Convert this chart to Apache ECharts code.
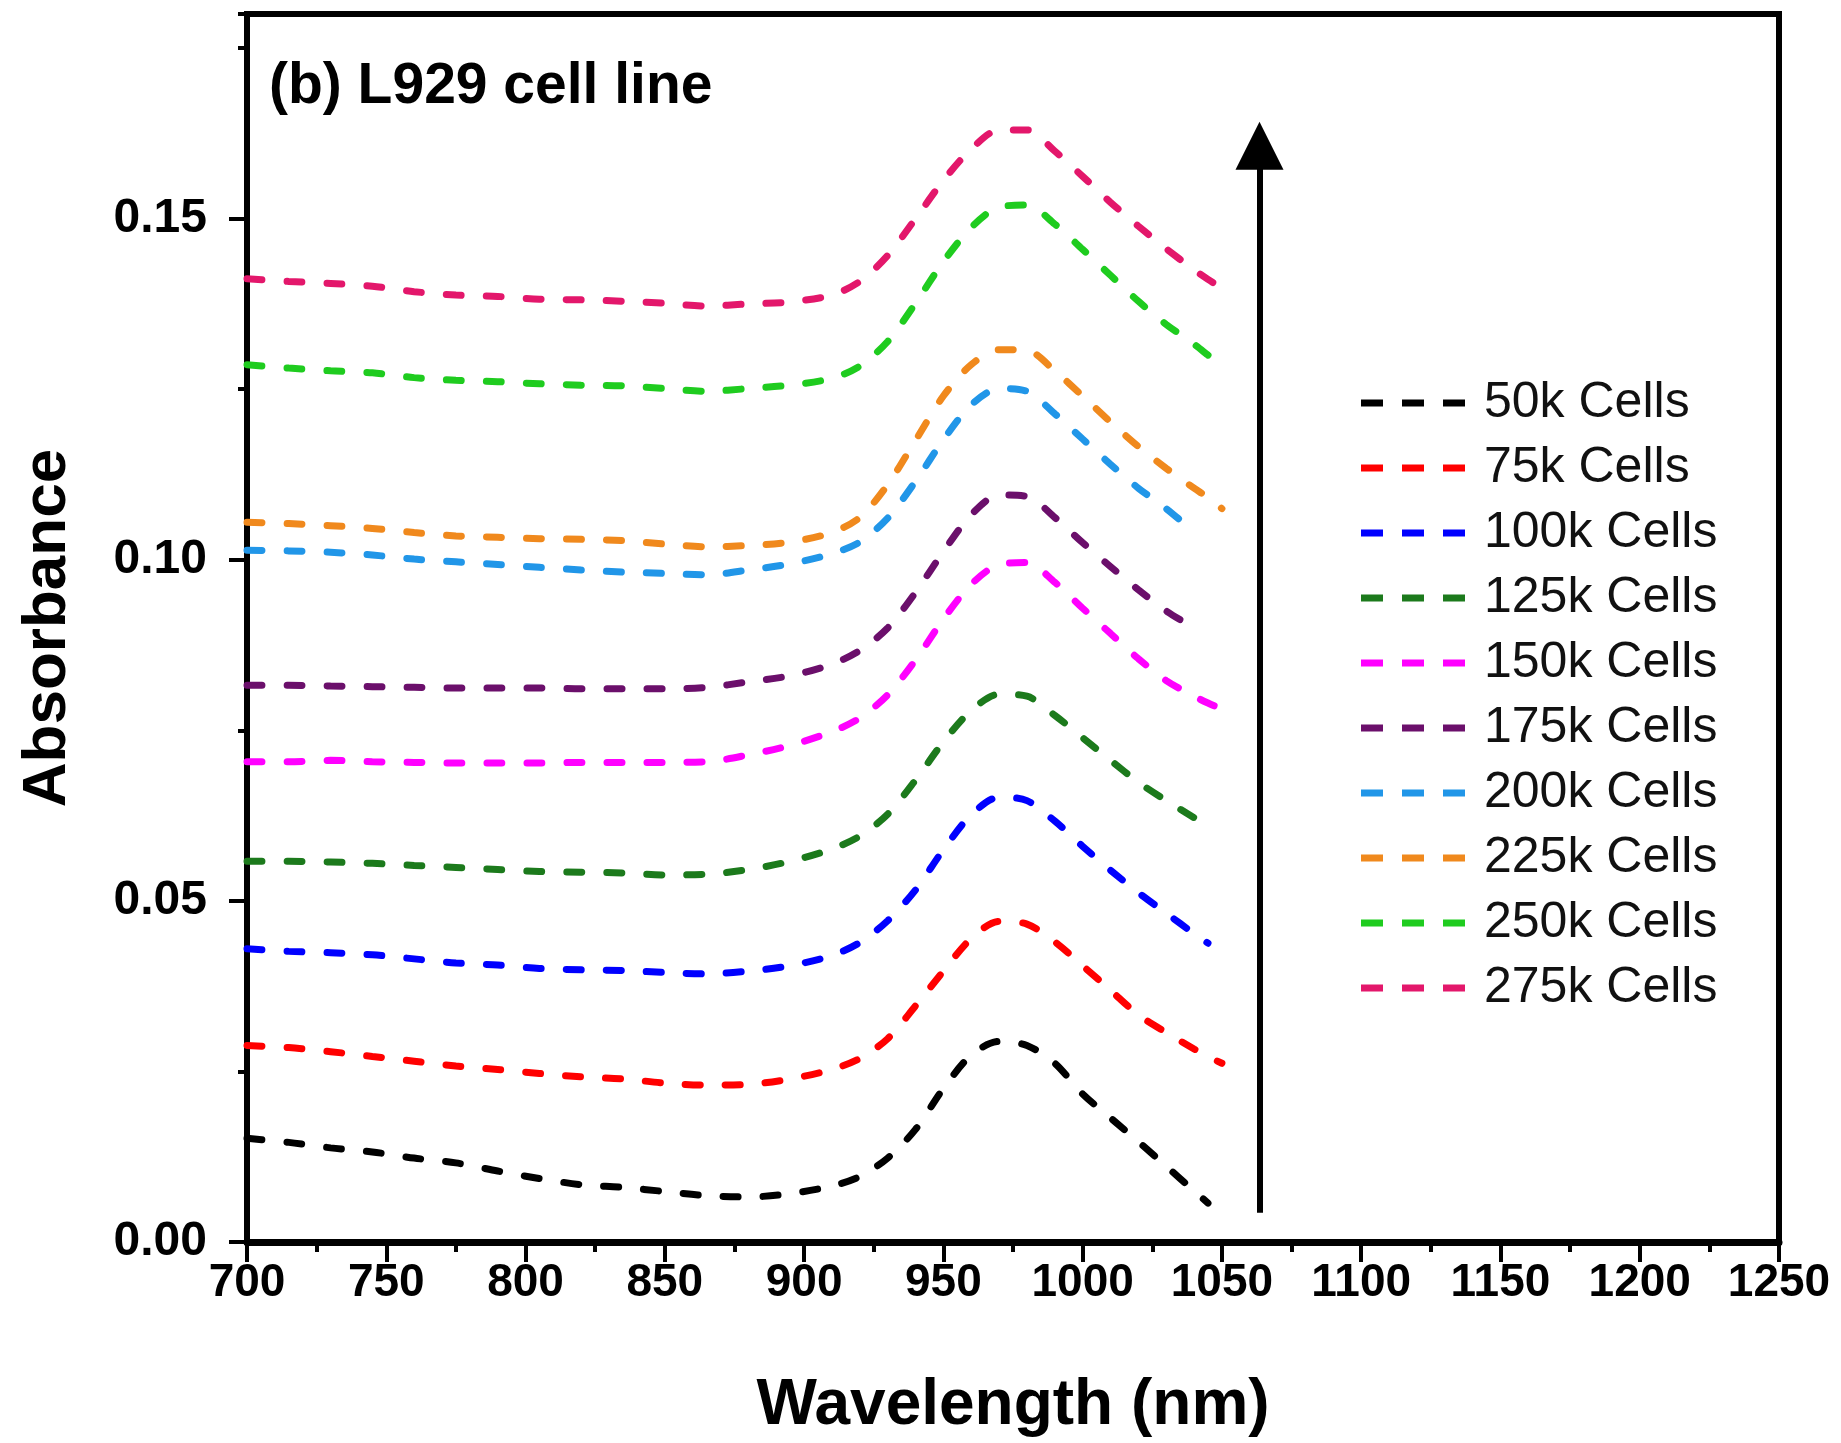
<!DOCTYPE html>
<html><head><meta charset="utf-8">
<script src="https://cdn.jsdelivr.net/npm/echarts@6/dist/echarts.min.js"></script>
<style>html,body{margin:0;padding:0;background:#fff}#c{width:1841px;height:1443px}</style>
</head><body><div id="c"></div>
<script>
// ---- data ----
const wavelengths = [700,715,730,745,760,775,790,805,820,835,850,865,880,895,910,920,930,940,950,960,970,980,990,1000,1010,1020,1030,1040,1045,1050];
const seriesNames = ['50k Cells','75k Cells','100k Cells','125k Cells','150k Cells','175k Cells','200k Cells','225k Cells','250k Cells','275k Cells'];
const cells50k  = [0.0152,0.0146,0.0138,0.0132,0.0123,0.0116,0.0104,0.0093,0.0084,0.0080,0.0074,0.0068,0.0066,0.0071,0.0082,0.0096,0.0123,0.0165,0.0225,0.0274,0.0294,0.0288,0.0262,0.0217,0.0182,0.0147,0.0111,0.0075,0.0057,null];
const cells75k  = [0.0288,0.0285,0.0279,0.0272,0.0265,0.0258,0.0253,0.0247,0.0242,0.0239,0.0233,0.0230,0.0231,0.0239,0.0253,0.0269,0.0298,0.0346,0.0397,0.0445,0.0470,0.0466,0.0440,0.0405,0.0369,0.0333,0.0307,0.0283,0.0272,0.0262];
const cells100k = [0.0430,0.0426,0.0424,0.0421,0.0415,0.0409,0.0406,0.0401,0.0399,0.0398,0.0395,0.0393,0.0397,0.0405,0.0420,0.0439,0.0471,0.0516,0.0575,0.0626,0.0652,0.0647,0.0617,0.0580,0.0545,0.0512,0.0482,0.0452,0.0438,null];
const cells125k = [0.0558,0.0558,0.0557,0.0555,0.0552,0.0549,0.0546,0.0543,0.0542,0.0541,0.0538,0.0539,0.0546,0.0558,0.0576,0.0595,0.0627,0.0677,0.0733,0.0779,0.0803,0.0800,0.0772,0.0739,0.0706,0.0674,0.0647,0.0622,0.0609,null];
const cells150k = [0.0704,0.0704,0.0706,0.0704,0.0703,0.0702,0.0702,0.0702,0.0703,0.0703,0.0703,0.0704,0.0714,0.0728,0.0748,0.0768,0.0802,0.0853,0.0913,0.0964,0.0993,0.0996,0.0967,0.0929,0.0892,0.0855,0.0823,0.0800,0.0790,0.0781];
const cells175k = [0.0816,0.0816,0.0815,0.0814,0.0813,0.0812,0.0812,0.0812,0.0811,0.0811,0.0811,0.0813,0.0821,0.0830,0.0847,0.0867,0.0900,0.0952,0.1012,0.1066,0.1095,0.1093,0.1062,0.1025,0.0990,0.0956,0.0925,0.0900,null,null];
const cells200k = [0.1014,0.1013,0.1011,0.1007,0.1001,0.0997,0.0993,0.0989,0.0985,0.0982,0.0980,0.0978,0.0985,0.0994,0.1009,0.1026,0.1061,0.1115,0.1176,0.1227,0.1251,0.1247,0.1214,0.1177,0.1140,0.1105,0.1075,0.1041,null,null];
const cells225k = [0.1055,0.1053,0.1050,0.1046,0.1040,0.1035,0.1033,0.1031,0.1030,0.1028,0.1023,0.1019,0.1021,0.1026,0.1040,0.1062,0.1110,0.1175,0.1240,0.1286,0.1308,0.1307,0.1277,0.1240,0.1202,0.1166,0.1134,0.1105,0.1091,0.1075];
const cells250k = [0.1286,0.1281,0.1277,0.1274,0.1267,0.1263,0.1261,0.1258,0.1256,0.1255,0.1251,0.1247,0.1251,0.1256,0.1266,0.1284,0.1320,0.1376,0.1437,0.1487,0.1517,0.1520,0.1492,0.1455,0.1417,0.1379,0.1345,0.1316,0.1300,0.1284];
const cells275k = [0.1412,0.1408,0.1405,0.1401,0.1393,0.1388,0.1386,0.1382,0.1381,0.1379,0.1376,0.1372,0.1375,0.1378,0.1388,0.1408,0.1446,0.1500,0.1556,0.1602,0.1630,0.1630,0.1599,0.1562,0.1524,0.1489,0.1456,0.1425,0.1411,0.1398];
const seriesColors = ['#000000','#ff0000','#0000ff','#1c7a1c','#ff00ff','#6b0f6b','#2196e8','#f0891d','#1fcc1f','#e3176b'];
const arrowX = 1063.5;
const arrowYStart = 0.0043;
const arrowYEnd = 0.1607;
const titleText = '(b) L929 cell line';
const xName = 'Wavelength (nm)';
const yName = 'Absorbance';

// ---- chart ----
const allValues = [cells50k,cells75k,cells100k,cells125k,cells150k,cells175k,cells200k,cells225k,cells250k,cells275k];
const chart = echarts.init(document.getElementById('c'), null, {renderer:'canvas'});
const FONT = 'Liberation Sans, Arial, sans-serif';
const series = allValues.map((vals, i) => ({
  name: seriesNames[i],
  type: 'line',
  data: wavelengths.map((w, j) => vals[j] == null ? null : [w, vals[j]]).filter(p => p),
  smooth: 0.3,
  symbol: 'none',
  showSymbol: false,
  lineStyle: {color: seriesColors[i], width: 7, type: [15, 25], cap: 'round'},
  itemStyle: {color: seriesColors[i]},
  emphasis: {disabled: true},
  z: 3
}));
series[series.length - 1].markLine = {
  silent: true,
  animation: false,
  symbol: ['none', 'triangle'],
  symbolSize: 48,
  label: {show: false},
  emphasis: {disabled: true},
  lineStyle: {color: '#000', width: 6, type: 'solid'},
  data: [[{coord: [arrowX, arrowYStart]}, {coord: [arrowX, arrowYEnd]}]]
};

chart.setOption({
  animation: false,
  backgroundColor: '#fff',
  title: {
    text: titleText, left: 264, top: 54,
    textStyle: {fontFamily: FONT, fontWeight: 'bold', fontSize: 57, color: '#000'}
  },
  grid: {left: 247, right: 62, top: 14, bottom: 198, show: true, borderColor: '#000', borderWidth: 6, backgroundColor: 'transparent'},
  legend: {
    orient: 'vertical', left: 1356, top: 372,
    icon: 'path://M0 0h22v7H0z M41 0h22v7H41z M82 0h22v7H82z',
    itemWidth: 104, itemHeight: 7, itemGap: 13,
    data: seriesNames,
    textStyle: {fontFamily: FONT, fontSize: 50, color: '#111', lineHeight: 52, padding: [0, 0, 0, 14]},
    selectedMode: false
  },
  xAxis: {
    type: 'value', min: 700, max: 1250, interval: 50,
    name: xName, nameLocation: 'middle', nameGap: 132,
    nameTextStyle: {fontFamily: FONT, fontWeight: 'bold', fontSize: 64, color: '#000'},
    axisLine: {show: true, lineStyle: {color: '#000', width: 7}},
    axisTick: {show: true, length: 20, lineStyle: {color: '#000', width: 4}},
    minorTick: {show: true, splitNumber: 2, length: 10, lineStyle: {color: '#000', width: 4}},
    axisLabel: {margin: 18, formatter: v => String(v), fontFamily: FONT, fontWeight: 'bold', fontSize: 46, color: '#000'},
    splitLine: {show: false}
  },
  yAxis: [{
    type: 'value', min: 0, max: 0.18, interval: 0.05, position: 'left',
    name: yName, nameLocation: 'middle', nameGap: 168, nameRotate: 90,
    nameTextStyle: {fontFamily: FONT, fontWeight: 'bold', fontSize: 62, color: '#000'},
    axisLine: {show: true, lineStyle: {color: '#000', width: 6}},
    axisTick: {show: true, length: 18, lineStyle: {color: '#000', width: 4}},
    axisLabel: {margin: 40, showMaxLabel: false, formatter: v => v.toFixed(2), fontFamily: FONT, fontWeight: 'bold', fontSize: 48, color: '#000'},
    splitLine: {show: false}
  }, {
    type: 'value', min: 0, max: 0.18, interval: 0.025, position: 'left', offset: 0,
    axisLine: {show: false},
    axisTick: {show: true, length: 9, lineStyle: {color: '#000', width: 4}},
    axisLabel: {show: false},
    splitLine: {show: false}
  }],
  series: series
});
</script></body></html>
